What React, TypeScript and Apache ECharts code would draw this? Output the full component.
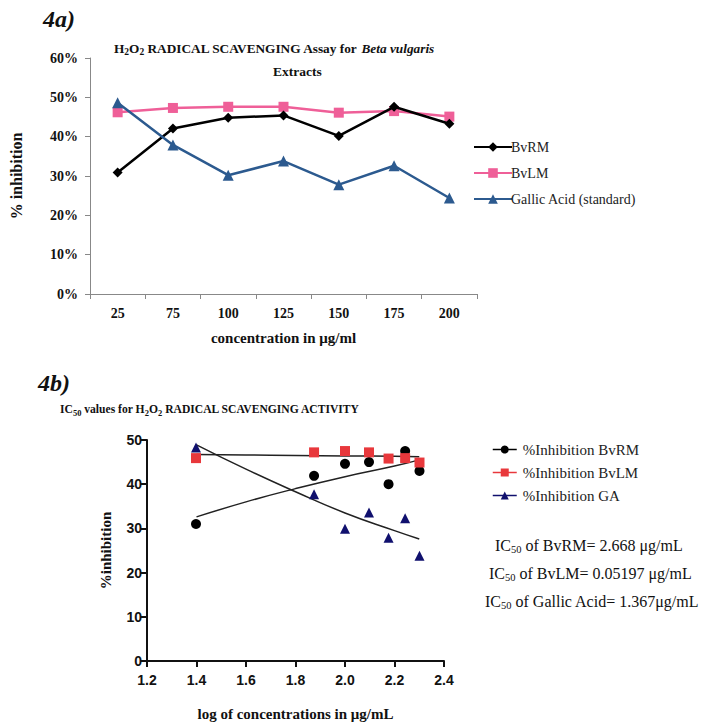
import React, { useEffect, useRef } from "react";
import * as echarts from "echarts";

const categories = ["25", "75", "100", "125", "150", "175", "200"];
const bvrmTop = [0.309, 0.421, 0.448, 0.454, 0.402, 0.476, 0.433];
const bvlmTop = [0.462, 0.473, 0.476, 0.476, 0.461, 0.465, 0.451];
const gaTop = [0.486, 0.379, 0.302, 0.338, 0.278, 0.326, 0.244];

const logConc = [1.398, 1.875, 2.0, 2.097, 2.176, 2.243, 2.301];
const bvrmPts = [31.0, 41.9, 44.6, 45.0, 40.0, 47.5, 43.0];
const bvlmPts = [45.9, 47.2, 47.5, 47.2, 45.8, 45.9, 44.9];
const gaPts = [48.3, 37.7, 29.9, 33.6, 27.9, 32.3, 23.8];

const fitX = [1.4, 1.6, 1.8, 2.0, 2.2, 2.3];
const bvrmFit = [32.6, 36.0, 39.0, 41.7, 44.1, 45.5];
const bvlmFit = [46.7, 46.6, 46.5, 46.4, 46.3, 46.2];
const gaFit = [48.9, 43.4, 38.3, 33.5, 29.5, 27.6];

const ic50Texts = ["of BvRM= 2.668 μg/mL", "of BvLM= 0.05197 μg/mL", "of Gallic Acid= 1.367μg/mL"];
const ic50Left = [490, 484, 480];

const SERIF = "Liberation Serif, Times New Roman, DejaVu Serif, serif";
const SANS = "Liberation Sans, Arial, sans-serif";

const PINK = "#ef5f98";
const BLUE = "#2c5a8f";
const RED = "#e8383c";
const NAVY = "#10106e";

export default function App() {
  const ref = useRef<HTMLDivElement>(null);
  useEffect(() => {
    if (!ref.current) return;
    const chart = echarts.init(ref.current, undefined, { renderer: "svg" });
    const pair = (xs: number[], ys: number[]) => xs.map((x, i) => [x, ys[i]]);
    const bigRich = {
      b: { fontFamily: SERIF, fontWeight: "bold", fontSize: 13.3, color: "#111" },
      s: { fontFamily: SERIF, fontWeight: "bold", fontSize: 9.5, color: "#111", padding: [7, 0, 0, 0] },
      i: { fontFamily: SERIF, fontWeight: "bold", fontStyle: "italic", fontSize: 13.3, color: "#111" },
    };
    const subRich = {
      b: { fontFamily: SERIF, fontWeight: "bold", fontSize: 11.6, color: "#111" },
      s: { fontFamily: SERIF, fontWeight: "bold", fontSize: 8.5, color: "#111", padding: [7, 0, 0, 0] },
    };
    const icRich = {
      n: { fontFamily: SERIF, fontWeight: "normal", fontSize: 16, color: "#111" },
      s: { fontFamily: SERIF, fontWeight: "normal", fontSize: 10.5, color: "#111", padding: [8, 0, 0, 0] },
    };
    const option: any = {
      animation: false,
      backgroundColor: "#fff",
      textStyle: { fontFamily: SERIF },
      title: [
        {
          text: "4a)",
          left: 38,
          top: 2,
          textStyle: { fontFamily: SERIF, fontStyle: "italic", fontWeight: "bold", fontSize: 24, color: "#111" },
        },
        {
          text: "{b|H}{s|2}{b|O}{s|2}{b| RADICAL SCAVENGING Assay for }{i|Beta vulgaris}",
          left: 109,
          top: 35,
          textStyle: { fontFamily: SERIF, rich: bigRich },
        },
        {
          text: "Extracts",
          left: 268,
          top: 59,
          textStyle: { fontFamily: SERIF, fontWeight: "bold", fontSize: 13.5, color: "#111" },
        },
        {
          text: "4b)",
          left: 33,
          top: 366,
          textStyle: { fontFamily: SERIF, fontStyle: "italic", fontWeight: "bold", fontSize: 24, color: "#111" },
        },
        {
          text: "{b|IC}{s|50}{b| values for H}{s|2}{b|O}{s|2}{b| RADICAL SCAVENGING ACTIVITY}",
          left: 55,
          top: 396,
          textStyle: { fontFamily: SERIF, rich: subRich },
        },
        ...ic50Texts.map((t, i) => ({
          text: "{n|IC}{s|50}{n| " + t + "}",
          left: ic50Left[i],
          top: 531 + i * 28,
          textStyle: { fontFamily: SERIF, fontWeight: "normal", rich: icRich },
        })),
      ],
      legend: [
        {
          orient: "vertical",
          left: 468,
          top: 135,
          itemWidth: 38,
          itemHeight: 12,
          itemGap: 12,
          textStyle: { fontFamily: SERIF, fontSize: 14, color: "#222", padding: [0, 0, 0, -6] },
          data: ["BvRM", "BvLM", "Gallic Acid (standard)"],
        },
        {
          orient: "vertical",
          left: 487,
          top: 437,
          itemWidth: 24,
          itemHeight: 10,
          itemGap: 8,
          textStyle: { fontFamily: SERIF, fontSize: 15, color: "#222", padding: [0, 0, 0, 1] },
          lineStyle: { opacity: 1, width: 1.5 },
          data: ["%Inhibition BvRM", "%Inhibition BvLM", "%Inhibition GA"],
        },
      ],
      grid: [
        { left: 87, top: 58, width: 390, height: 236 },
        { left: 147, top: 440, width: 297, height: 221 },
      ],
      xAxis: [
        {
          type: "category",
          gridIndex: 0,
          data: categories,
          boundaryGap: true,
          name: "concentration in μg/ml",
          nameLocation: "middle",
          nameGap: 36,
          nameTextStyle: { fontFamily: SERIF, fontWeight: "bold", fontSize: 15, color: "#111" },
          axisLine: { lineStyle: { color: "#888", width: 1 } },
          axisTick: { show: true, length: 5, lineStyle: { color: "#888" }, alignWithLabel: false },
          axisLabel: { fontFamily: SERIF, fontWeight: "bold", fontSize: 14, color: "#111", margin: 12 },
          splitLine: { show: false },
        },
        {
          type: "value",
          gridIndex: 1,
          min: 1.2,
          max: 2.4,
          interval: 0.2,
          name: "log of concentrations in μg/mL",
          nameLocation: "middle",
          nameGap: 45,
          nameTextStyle: { fontFamily: SERIF, fontWeight: "bold", fontSize: 15, color: "#111" },
          axisLine: { lineStyle: { color: "#111", width: 2 } },
          axisTick: { show: true, length: 6, lineStyle: { color: "#111", width: 2 } },
          axisLabel: {
            fontFamily: SANS,
            fontWeight: "bold",
            fontSize: 14,
            color: "#111",
            margin: 12,
            formatter: (v: number) => v.toFixed(1),
          },
          splitLine: { show: false },
        },
      ],
      yAxis: [
        {
          type: "value",
          gridIndex: 0,
          min: 0,
          max: 0.6,
          interval: 0.1,
          name: "% inhibition",
          nameLocation: "middle",
          nameGap: 66,
          nameTextStyle: { fontFamily: SERIF, fontWeight: "bold", fontSize: 16, color: "#111" },
          axisLine: { show: true, lineStyle: { color: "#888", width: 1 } },
          axisTick: { show: true, length: 5, lineStyle: { color: "#888" } },
          axisLabel: {
            fontFamily: SERIF,
            fontWeight: "bold",
            fontSize: 14,
            color: "#111",
            margin: 12,
            formatter: (v: number) => Math.round(v * 100) + "%",
          },
          splitLine: { show: false },
        },
        {
          type: "value",
          gridIndex: 1,
          min: 0,
          max: 50,
          interval: 10,
          name: "%inhibition",
          nameLocation: "middle",
          nameGap: 34,
          nameTextStyle: { fontFamily: SERIF, fontWeight: "bold", fontSize: 15, color: "#111" },
          axisLine: { show: true, lineStyle: { color: "#111", width: 2 } },
          axisTick: { show: true, length: 6, lineStyle: { color: "#111", width: 2 } },
          axisLabel: { fontFamily: SANS, fontWeight: "bold", fontSize: 14, color: "#111", margin: 5 },
          splitLine: { show: false },
        },
      ],
      series: [
        {
          name: "BvRM",
          type: "line",
          xAxisIndex: 0,
          yAxisIndex: 0,
          data: bvrmTop,
          symbol: "diamond",
          symbolSize: 10,
          lineStyle: { color: "#000", width: 2.5 },
          itemStyle: { color: "#000" },
          z: 3,
        },
        {
          name: "BvLM",
          type: "line",
          xAxisIndex: 0,
          yAxisIndex: 0,
          data: bvlmTop,
          symbol: "rect",
          symbolSize: 10,
          lineStyle: { color: PINK, width: 2.5 },
          itemStyle: { color: PINK },
          z: 2,
        },
        {
          name: "Gallic Acid (standard)",
          type: "line",
          xAxisIndex: 0,
          yAxisIndex: 0,
          data: gaTop,
          symbol: "triangle",
          symbolSize: 11,
          lineStyle: { color: BLUE, width: 2.5 },
          itemStyle: { color: BLUE },
          z: 4,
        },
        {
          name: "fitRM",
          type: "line",
          xAxisIndex: 1,
          yAxisIndex: 1,
          data: pair(fitX, bvrmFit),
          smooth: true,
          symbol: "none",
          lineStyle: { color: "#222", width: 1.5 },
          z: 1,
        },
        {
          name: "fitLM",
          type: "line",
          xAxisIndex: 1,
          yAxisIndex: 1,
          data: pair(fitX, bvlmFit),
          smooth: true,
          symbol: "none",
          lineStyle: { color: "#222", width: 1.5 },
          z: 1,
        },
        {
          name: "fitGA",
          type: "line",
          xAxisIndex: 1,
          yAxisIndex: 1,
          data: pair(fitX, gaFit),
          smooth: true,
          symbol: "none",
          lineStyle: { color: "#222", width: 1.5 },
          z: 1,
        },
        {
          name: "%Inhibition BvRM",
          type: "line",
          xAxisIndex: 1,
          yAxisIndex: 1,
          data: pair(logConc, bvrmPts),
          symbol: "circle",
          symbolSize: 10,
          lineStyle: { color: "#000", opacity: 0 },
          itemStyle: { color: "#000" },
          z: 3,
        },
        {
          name: "%Inhibition BvLM",
          type: "line",
          xAxisIndex: 1,
          yAxisIndex: 1,
          data: pair(logConc, bvlmPts),
          symbol: "rect",
          symbolSize: 10,
          lineStyle: { color: RED, opacity: 0 },
          itemStyle: { color: RED },
          z: 3,
        },
        {
          name: "%Inhibition GA",
          type: "line",
          xAxisIndex: 1,
          yAxisIndex: 1,
          data: pair(logConc, gaPts),
          symbol: "triangle",
          symbolSize: 10,
          lineStyle: { color: NAVY, opacity: 0 },
          itemStyle: { color: NAVY },
          z: 3,
        },
      ],
    };
    chart.setOption(option);
    return () => chart.dispose();
  }, []);
  return <div ref={ref} style={{ position: "absolute", left: 0, top: 0, width: 708, height: 728 }} />;
}
